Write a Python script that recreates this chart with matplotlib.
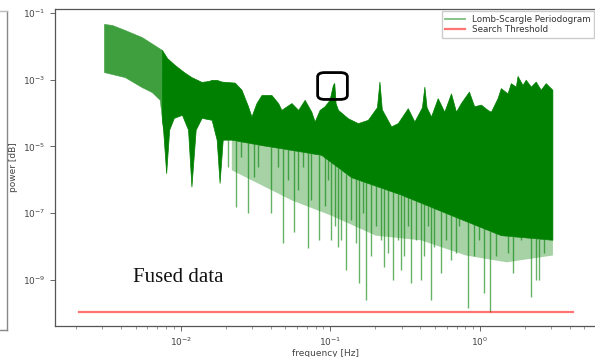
import numpy as np
import matplotlib
matplotlib.use("Agg")
import matplotlib.pyplot as plt
from matplotlib.lines import Line2D
from matplotlib.patches import FancyBboxPatch
from matplotlib.ticker import FixedLocator, NullLocator, LogFormatterMathtext

# ---- data ----
# upper envelope of the periodogram
top_freq = [0.00307, 0.00347, 0.00423, 0.0055, 0.0075, 0.0081, 0.0091, 0.0105, 0.0118,
            0.0138, 0.0154, 0.0161, 0.0174, 0.0188, 0.0230, 0.0255, 0.0282, 0.0297,
            0.0321, 0.0347, 0.0404, 0.0448, 0.0471, 0.055, 0.061, 0.0674, 0.0747,
            0.0786, 0.0849, 0.0916, 0.0989, 0.1041, 0.1063, 0.1085, 0.1126, 0.1313,
            0.153, 0.1783, 0.205, 0.2131, 0.221, 0.2551, 0.2826, 0.3296, 0.3648,
            0.41, 0.4254, 0.44, 0.4713, 0.5224, 0.578, 0.641, 0.692, 0.7464, 0.8446,
            0.916, 1.016, 1.125, 1.184, 1.312, 1.38, 1.53, 1.61, 1.738, 1.785, 1.926,
            2.026, 2.19, 2.362, 2.551, 2.754, 3.052]
top_power = [4.7e-2, 4.4e-2, 3.1e-2, 1.9e-2, 7.8e-3, 4.5e-3, 2.8e-3, 1.7e-3, 1.2e-3,
             8.6e-4, 9.2e-4, 9.9e-4, 9.9e-4, 8.8e-4, 8.2e-4, 5.0e-4, 1.6e-4, 7.9e-5,
             2.0e-4, 3.5e-4, 3.5e-4, 2.0e-4, 1.25e-4, 2.0e-4, 1.25e-4, 2.5e-4, 1.1e-4,
             5.6e-5, 1.25e-4, 1.6e-4, 2.5e-4, 7.0e-4, 8.0e-4, 2.0e-4, 1.25e-4, 7.0e-5,
             5.0e-5, 6.3e-5, 1.5e-4, 8.8e-4, 1.3e-4, 4.0e-5, 5.0e-5, 1.4e-4, 5.6e-5,
             1.5e-4, 6.2e-4, 1.5e-4, 7.9e-5, 2.8e-4, 1.1e-4, 3.9e-4, 1.1e-4, 2.0e-4, 4.4e-4,
             1.6e-4, 1.8e-4, 1.25e-4, 1.1e-4, 2.8e-4, 5.6e-4, 3.9e-4, 7.9e-4, 6.2e-4, 1.3e-3, 7.0e-4,
             1.0e-3, 6.2e-4, 8.8e-4, 5.0e-4, 7.9e-4, 5.0e-4]

# lower edge of the dense part of the periodogram
low_freq = [0.00307, 0.00423, 0.0055, 0.0064, 0.00725, 0.00763, 0.0080, 0.00838, 0.0090,
            0.0102, 0.0112, 0.0118, 0.0126, 0.0138, 0.0161, 0.0174, 0.0182, 0.0191,
            0.0218, 0.0347, 0.055, 0.087, 0.138, 0.297, 0.641, 1.38, 3.052]
low_power = [1.7e-3, 1.2e-3, 6.0e-4, 4.3e-4, 2.5e-4, 3.2e-5, 1.6e-6, 3.2e-5, 7.2e-5,
             8.9e-5, 3.2e-5, 6.3e-7, 3.2e-5, 7.2e-5, 6.3e-5, 1.6e-5, 8.1e-7, 1.6e-5,
             1.6e-5, 1.1e-5, 7.9e-6, 5.6e-6, 1.2e-6, 3.6e-7, 8.8e-8, 2.2e-8, 1.6e-8]

# lower edge of the sparser (half-filled) part below the dense body
sparse_freq = [0.0218, 0.055, 0.1, 0.2, 0.4, 0.8, 1.5, 3.052]
sparse_power = [2.0e-6, 2.5e-7, 8.9e-8, 2.2e-8, 1.6e-8, 5.6e-9, 3.5e-9, 5.6e-9]

# downward spikes below the dense part (frequency, minimum power)
spike_freq = [0.0208, 0.0236, 0.0255, 0.0284, 0.0307, 0.033, 0.0404, 0.0448, 0.0486,
              0.0523, 0.0575, 0.061, 0.0658, 0.0714, 0.0747, 0.0845, 0.0916, 0.0966,
              0.1015, 0.1069, 0.113, 0.1184, 0.128, 0.138, 0.149, 0.156, 0.165, 0.174,
              0.1876, 0.2027, 0.2188, 0.229, 0.2427, 0.263, 0.2826, 0.297, 0.3126,
              0.3296, 0.347, 0.3743, 0.404, 0.4254, 0.4477, 0.471, 0.4955, 0.55,
              0.5933, 0.641, 0.6918, 0.7278, 0.832, 0.9162, 0.989, 1.063, 1.166,
              1.279, 1.38, 1.53, 1.66, 1.876, 2.026, 2.19, 2.362, 2.47, 2.684, 2.974]
spike_min = [2.5e-6, 1.56e-7, 5.0e-6, 1.03e-7, 1.23e-6, 2.5e-6, 1.03e-7, 2.5e-6, 1.3e-8,
             1.0e-6, 2.77e-8, 5.0e-7, 2.5e-6, 9.2e-9, 2.5e-7, 1.6e-8, 1.6e-7, 1.0e-6,
             1.6e-8, 4.0e-8, 9.9e-9, 1.6e-8, 2.0e-9, 6.3e-8, 1.27e-8, 8.2e-10, 1.0e-7, 2.55e-10,
             5.1e-9, 4.0e-8, 1.6e-8, 2.5e-9, 6.4e-9, 1.0e-9, 1.6e-8, 2.0e-9, 5.1e-9,
             4.0e-8, 8.2e-10, 1.6e-8, 1.0e-9, 5.1e-9, 4.0e-8, 2.55e-10, 1.0e-8, 1.64e-9,
             1.6e-8, 4.0e-9, 6.4e-9, 4.0e-8, 1.47e-10, 5.1e-9, 1.6e-8, 4.1e-10, 1.1e-10,
             5.1e-9, 4.0e-8, 6.4e-9, 1.64e-9, 1.6e-8, 4.0e-8, 3.1e-10, 1.0e-9, 1.0e-9, 6.4e-9, 1.6e-8]

threshold_freq = [0.0021, 4.2]
threshold_power = 1.1e-10

x_ticks = [1e-2, 1e-1, 1e0]
y_ticks = [1e-9, 1e-7, 1e-5, 1e-3, 1e-1]

# ---- figure ----
W, H = 595, 357
fig = plt.figure(figsize=(W / 100, H / 100), dpi=100)
ax = fig.add_axes([55 / W, 1 - 326 / H, 541 / W, 317 / H])

ax.set_xscale("log")
ax.set_yscale("log")

green = "green"
lg = lambda v: np.log10(np.asarray(v))
grid = np.array(sorted(set(top_freq) | set(low_freq)))
t = 10 ** np.interp(lg(grid), lg(top_freq), lg(top_power))
b = 10 ** np.interp(lg(grid), lg(low_freq), lg(low_power))
ax.fill_between(grid, b, t, where=grid <= 0.0075, color="#3f9f3f", lw=0.4, interpolate=True)
ax.fill_between(grid, b, t, where=grid >= 0.0075, color=green, lw=0.5, interpolate=True)

# half-filled region below the body
g2 = np.array(sorted(set(sparse_freq) | set(low_freq)))
g2 = g2[g2 >= sparse_freq[0]]
b2 = 10 ** np.interp(lg(g2), lg(low_freq), lg(low_power))
s2 = 10 ** np.interp(lg(g2), lg(sparse_freq), lg(sparse_power))
ax.fill_between(g2, s2, b2, color=green, alpha=0.35, lw=0)

# spikes
sb = 10 ** np.interp(lg(spike_freq), lg(low_freq), lg(low_power))
ax.vlines(spike_freq, spike_min, sb, color=green, alpha=0.6, lw=1.0)

ax.plot(threshold_freq, [threshold_power, threshold_power], color="red", alpha=0.55, lw=1.6)

ax.set_xlim(10 ** -2.84, 10 ** 0.776)
ax.set_ylim(10 ** -10.38, 10 ** -0.88)

ax.yaxis.set_major_locator(FixedLocator(y_ticks))
ax.yaxis.set_minor_locator(NullLocator())
ax.yaxis.set_major_formatter(LogFormatterMathtext())
ax.xaxis.set_major_locator(FixedLocator(x_ticks))
ax.xaxis.set_major_formatter(LogFormatterMathtext())

ax.tick_params(labelsize=6.5, labelcolor="#444444", color="#666666", width=0.7)
ax.tick_params(which="minor", color="#888888", width=0.6)
for s in ax.spines.values():
    s.set_color("#555555")
    s.set_linewidth(0.9)

ax.set_xlabel("frequency [Hz]", fontsize=6.5, color="#444444")
ax.set_ylabel("power [dB]", fontsize=6.5, color="#444444")
ax.yaxis.set_label_coords((18 - 55) / 541, 0.5)
ax.xaxis.set_label_coords(0.5, -(349 - 326) / 317)

handles = [Line2D([], [], color=green, alpha=0.5, lw=1.3),
           Line2D([], [], color="red", alpha=0.55, lw=1.6)]
ax.legend(handles, ["Lomb-Scargle Periodogram", "Search Threshold"], loc="upper right",
          fontsize=6.3, borderaxespad=0.25, handlelength=2.2, labelspacing=0.2,
          framealpha=1, edgecolor="#cccccc", fancybox=False, labelcolor="#333333")

# annotations present in the picture
fig.text(133 / W, 1 - 282 / H, "Fused data", family="Liberation Serif", fontsize=15,
         va="baseline", color="#111111")
fig.add_artist(FancyBboxPatch((320 / W, 1 - 98 / H), 25 / W, 24 / H,
                              boxstyle="round,pad=0.004,rounding_size=0.012",
                              transform=fig.transFigure, fill=False, ec="black", lw=2))
fig.add_artist(Line2D([7 / W, 7 / W], [1 - 11 / H, 1 - 330 / H], color="#888888", lw=1))
fig.add_artist(Line2D([0, 7 / W], [1 - 330 / H, 1 - 330 / H], color="#888888", lw=1))
fig.add_artist(Line2D([0, 7 / W], [1 - 11 / H, 1 - 11 / H], color="#bbbbbb", lw=1))

fig.savefig("out.png", dpi=100)
